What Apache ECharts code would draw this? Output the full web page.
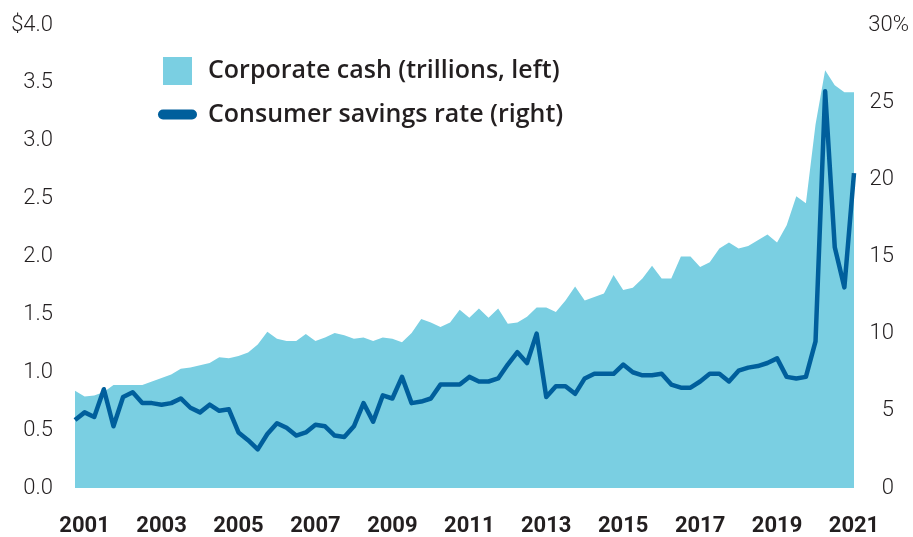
<!DOCTYPE html>
<html>
<head>
<meta charset="utf-8">
<script src="https://cdn.jsdelivr.net/npm/echarts@6/dist/echarts.min.js"></script>
<style>
  html, body { margin: 0; padding: 0; background: #fff; }
  #chart { width: 913px; height: 537px; }
</style>
</head>
<body>
<div id="chart"></div>
<script>
// quarterly, 2000 Q4 .. 2021 Q1
const quarters = [];
for (let y = 2000; y <= 2021; y++) {
  for (let q = 1; q <= 4; q++) {
    if ((y === 2000 && q < 4) || (y === 2021 && q > 1)) continue;
    quarters.push(y + "Q" + q);
  }
}

const yearTicks = ["2001", "2003", "2005", "2007", "2009", "2011", "2013", "2015", "2017", "2019", "2021"];

// corporate cash, trillions $ (left axis)
const corporateCash = [
  0.84, 0.79, 0.80, 0.83, 0.89, 0.89, 0.89, 0.89, 0.92, 0.95,
  0.98, 1.03, 1.04, 1.06, 1.08, 1.13, 1.12, 1.14, 1.17, 1.24,
  1.35, 1.29, 1.27, 1.27, 1.33, 1.27, 1.30, 1.34, 1.32, 1.29,
  1.30, 1.27, 1.30, 1.29, 1.26, 1.34, 1.46, 1.43, 1.39, 1.43,
  1.54, 1.47, 1.55, 1.47, 1.55, 1.42, 1.43, 1.48, 1.56, 1.56,
  1.52, 1.62, 1.74, 1.62, 1.65, 1.68, 1.84, 1.71, 1.73, 1.81,
  1.92, 1.81, 1.81, 2.00, 2.00, 1.91, 1.95, 2.07, 2.12, 2.07,
  2.09, 2.14, 2.19, 2.12, 2.27, 2.52, 2.46, 3.14, 3.61, 3.48,
  3.42, 3.42
];

// consumer savings rate, % (right axis)
const savingsRate = [
  4.4, 4.9, 4.6, 6.4, 4.0, 5.9, 6.2, 5.5, 5.5, 5.4,
  5.5, 5.8, 5.2, 4.9, 5.4, 5.0, 5.1, 3.6, 3.1, 2.5,
  3.5, 4.2, 3.9, 3.4, 3.6, 4.1, 4.0, 3.4, 3.3, 4.0,
  5.5, 4.3, 6.0, 5.8, 7.2, 5.5, 5.6, 5.8, 6.7, 6.7,
  6.7, 7.2, 6.9, 6.9, 7.1, 8.0, 8.8, 8.1, 10.0, 5.9,
  6.6, 6.6, 6.1, 7.1, 7.4, 7.4, 7.4, 8.0, 7.5, 7.3,
  7.3, 7.4, 6.7, 6.5, 6.5, 6.9, 7.4, 7.4, 6.9, 7.6,
  7.8, 7.9, 8.1, 8.4, 7.2, 7.1, 7.2, 9.5, 25.7, 15.6,
  13.0, 20.4
];

const cashName = "Corporate cash (trillions, left)";
const rateName = "Consumer savings rate (right)";
const cashColor = "#7acfe2";
const rateColor = "#005f9c";
const textColor = "#231f20";

const chart = echarts.init(document.getElementById("chart"));

const legendText = {
  fontFamily: "Open Sans",
  fontWeight: 600,
  fontSize: 25,
  color: textColor,
};

chart.setOption({
  animation: false,
  grid: { left: 75, right: 59, top: 25, bottom: 49 },
  legend: [
    {
      data: [{ name: cashName, icon: "rect", itemStyle: { color: cashColor } }],
      left: 158,
      top: 52,
      itemWidth: 29,
      itemHeight: 28,
      selectedMode: false,
      textStyle: Object.assign({ padding: [0, 0, 0, 11] }, legendText),
    },
    {
      data: [{ name: rateName, icon: "path://M5,0 H34 A5,5 0 0 1 34,10 H5 A5,5 0 0 1 5,0 Z", itemStyle: { color: rateColor } }],
      left: 153,
      top: 97,
      itemWidth: 39,
      itemHeight: 10,
      selectedMode: false,
      textStyle: Object.assign({ padding: [0, 0, 0, 6] }, legendText),
    },
  ],
  xAxis: {
    type: "category",
    data: quarters,
    boundaryGap: false,
    axisLine: { show: false },
    axisTick: { show: false },
    axisLabel: {
      interval: (index, value) => value.endsWith("Q1") && yearTicks.includes(value.slice(0, 4)),
      formatter: (value) => value.slice(0, 4),
      margin: 27,
      fontFamily: "Roboto",
      fontWeight: "bold",
      fontSize: 22,
      color: textColor,
    },
  },
  yAxis: [
    {
      type: "value",
      min: 0,
      max: 4,
      interval: 0.5,
      splitLine: { show: false },
      axisLabel: {
        margin: 22,
        fontFamily: "Roboto",
        fontWeight: 300,
        fontSize: 22,
        color: textColor,
        formatter: (v) => (v === 4 ? "$4.0" : v.toFixed(1)),
      },
    },
    {
      type: "value",
      min: 0,
      max: 30,
      interval: 5,
      splitLine: { show: false },
      axisLabel: {
        margin: 55,
        align: "right",
        fontFamily: "Roboto",
        fontWeight: 300,
        fontSize: 22,
        color: textColor,
        formatter: (v) => (v === 30 ? "30%" : v + "{s|}"),
        rich: { s: { width: 15 } },
      },
    },
  ],
  series: [
    {
      name: cashName,
      type: "line",
      yAxisIndex: 0,
      data: corporateCash,
      symbol: "none",
      lineStyle: { width: 0 },
      itemStyle: { color: cashColor },
      areaStyle: { color: cashColor, opacity: 1 },
    },
    {
      name: rateName,
      type: "line",
      yAxisIndex: 1,
      data: savingsRate,
      symbol: "none",
      lineStyle: { width: 4.5, color: rateColor, join: "round" },
      itemStyle: { color: rateColor },
    },
  ],
});
</script>
</body>
</html>
